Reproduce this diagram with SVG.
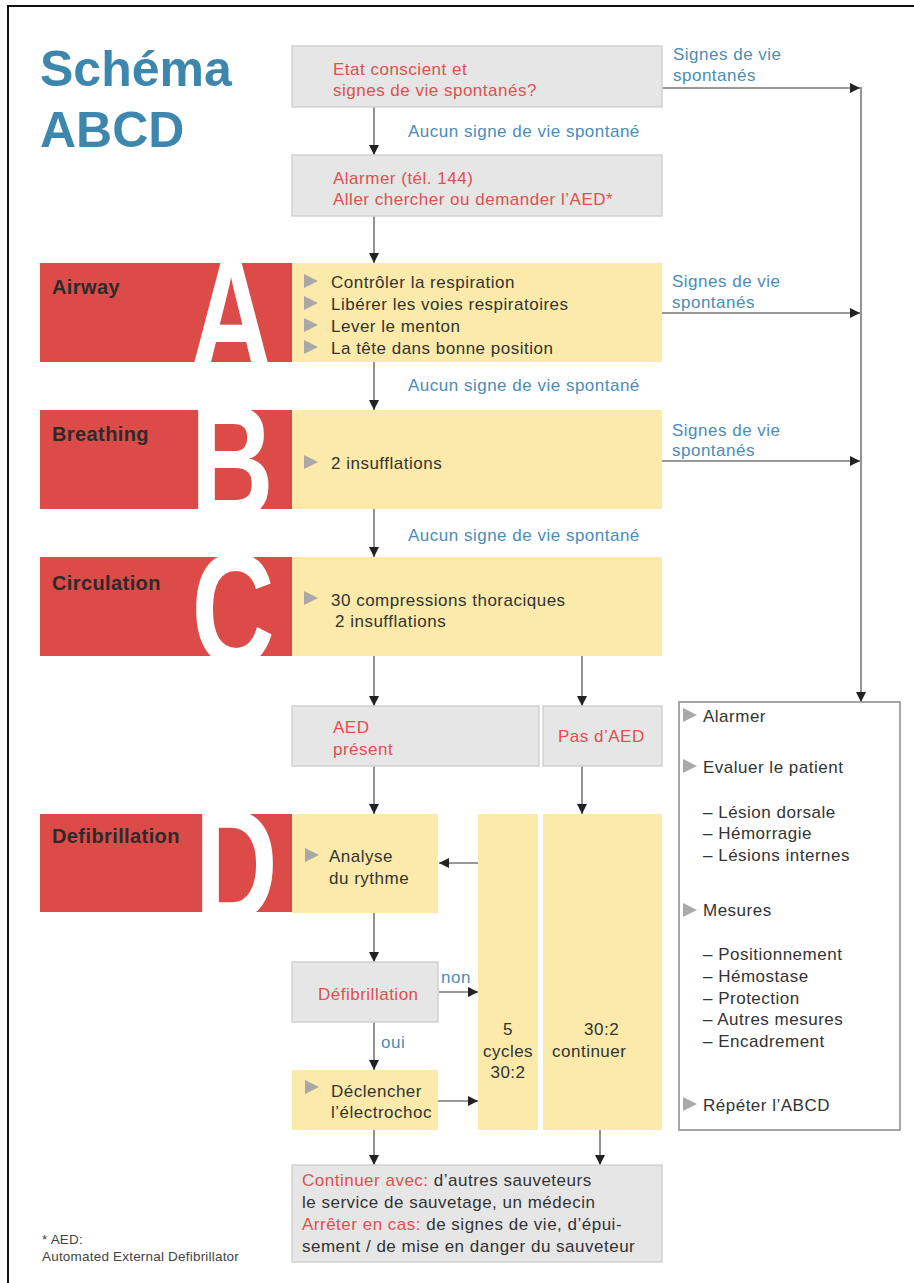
<svg xmlns="http://www.w3.org/2000/svg" width="914" height="1283" viewBox="0 0 914 1283">
<style>
.t{font-family:"Liberation Sans",Arial,sans-serif;font-size:17px;letter-spacing:0.5px}
.red{fill:#e0504e}
.blue{fill:#4a8db8}
.dark{fill:#333333}
.hd{font-family:"Liberation Sans",Arial,sans-serif;font-weight:bold;font-size:20px;letter-spacing:0.4px;fill:#2e2a2a}
.big{font-family:"Liberation Sans",Arial,sans-serif;font-weight:bold;font-size:160px;fill:#ffffff}
.gbox{fill:#e6e6e6;stroke:#d2d2d2;stroke-width:1.5}
.ybox{fill:#fbeaa9}
.rbox{fill:#dc4b47}
.conn line{stroke:#777777;stroke-width:1.6;fill:none}
.bul{fill:#a9a9a9}
</style>
<defs>
<marker id="ah" markerUnits="userSpaceOnUse" markerWidth="12" markerHeight="12" refX="10" refY="5" orient="auto">
<path d="M0,0 L10,5 L0,10 z" fill="#222222"/>
</marker>
<path id="tri" d="M0,0 L14,7 L0,14 z"/>
<clipPath id="cA"><rect x="40" y="263" width="252" height="99"/></clipPath>
<clipPath id="cB"><rect x="40" y="410" width="252" height="99"/></clipPath>
<clipPath id="cC"><rect x="40" y="557" width="252" height="99"/></clipPath>
<clipPath id="cD"><rect x="40" y="814" width="252" height="98"/></clipPath>
</defs>
<rect width="914" height="1283" fill="#ffffff"/>
<path d="M8,1283 L8,6 L914,6" fill="none" stroke="#111111" stroke-width="2"/>

<g id="title">
<text x="40" y="86" font-family="Liberation Sans,Arial,sans-serif" font-weight="bold" font-size="50" fill="#3d87ae">Schéma</text>
<text x="40" y="147" font-family="Liberation Sans,Arial,sans-serif" font-weight="bold" font-size="50" fill="#3d87ae">ABCD</text>
</g>

<g id="connectors" class="conn">
<line x1="374" y1="107" x2="374" y2="155" marker-end="url(#ah)"/>
<line x1="374" y1="216" x2="374" y2="263" marker-end="url(#ah)"/>
<line x1="374" y1="362" x2="374" y2="410" marker-end="url(#ah)"/>
<line x1="374" y1="509" x2="374" y2="557" marker-end="url(#ah)"/>
<line x1="374" y1="656" x2="374" y2="706" marker-end="url(#ah)"/>
<line x1="582" y1="656" x2="582" y2="706" marker-end="url(#ah)"/>
<line x1="374" y1="766" x2="374" y2="814" marker-end="url(#ah)"/>
<line x1="582" y1="766" x2="582" y2="814" marker-end="url(#ah)"/>
<line x1="478" y1="863" x2="439" y2="863" marker-end="url(#ah)"/>
<line x1="374" y1="913" x2="374" y2="962" marker-end="url(#ah)"/>
<line x1="439" y1="992" x2="478" y2="992" marker-end="url(#ah)"/>
<line x1="374" y1="1022" x2="374" y2="1070" marker-end="url(#ah)"/>
<line x1="438" y1="1101" x2="478" y2="1101" marker-end="url(#ah)"/>
<line x1="374" y1="1130" x2="374" y2="1165" marker-end="url(#ah)"/>
<line x1="600" y1="1130" x2="600" y2="1165" marker-end="url(#ah)"/>
<line x1="662" y1="88" x2="860" y2="88" marker-end="url(#ah)"/>
<line x1="662" y1="313" x2="860" y2="313" marker-end="url(#ah)"/>
<line x1="662" y1="461" x2="860" y2="461" marker-end="url(#ah)"/>
<line x1="861" y1="87" x2="861" y2="702" marker-end="url(#ah)"/>
</g>

<g id="edge-labels" class="t blue">
<text x="673" y="60">Signes de vie</text>
<text x="673" y="81">spontanés</text>
<text x="408" y="137">Aucun signe de vie spontané</text>
<text x="672" y="287">Signes de vie</text>
<text x="672" y="308">spontanés</text>
<text x="408" y="391">Aucun signe de vie spontané</text>
<text x="672" y="436">Signes de vie</text>
<text x="672" y="456">spontanés</text>
<text x="408" y="541">Aucun signe de vie spontané</text>
<text x="441" y="983">non</text>
<text x="381" y="1048">oui</text>
</g>

<g id="n-etat">
<rect class="gbox" x="292" y="46" width="370" height="61"/>
<text class="t red" x="333" y="75">Etat conscient et</text>
<text class="t red" x="333" y="96">signes de vie spontanés?</text>
</g>

<g id="n-alarmer">
<rect class="gbox" x="292" y="155" width="370" height="61"/>
<text class="t red" x="333" y="184">Alarmer (tél. 144)</text>
<text class="t red" x="333" y="205">Aller chercher ou demander l’AED*</text>
</g>

<g id="n-airway">
<rect class="rbox" x="40" y="263" width="252" height="99"/>
<g clip-path="url(#cA)"><text class="big" transform="translate(231,370) scale(0.72,1)" text-anchor="middle">A</text></g>
<text class="hd" x="52" y="294">Airway</text>
<rect class="ybox" x="292" y="263" width="370" height="99"/>
<use href="#tri" class="bul" x="304" y="274"/>
<use href="#tri" class="bul" x="304" y="296"/>
<use href="#tri" class="bul" x="304" y="318"/>
<use href="#tri" class="bul" x="304" y="340"/>
<text class="t dark" x="331" y="288">Contrôler la respiration</text>
<text class="t dark" x="331" y="310">Libérer les voies respiratoires</text>
<text class="t dark" x="331" y="332">Lever le menton</text>
<text class="t dark" x="331" y="354">La tête dans bonne position</text>
</g>

<g id="n-breathing">
<rect class="rbox" x="40" y="410" width="252" height="99"/>
<g clip-path="url(#cB)"><text class="big" transform="translate(232,517) scale(0.72,1)" text-anchor="middle">B</text></g>
<text class="hd" x="52" y="441">Breathing</text>
<rect class="ybox" x="292" y="410" width="370" height="99"/>
<use href="#tri" class="bul" x="304" y="455"/>
<text class="t dark" x="331" y="469">2 insufflations</text>
</g>

<g id="n-circulation">
<rect class="rbox" x="40" y="557" width="252" height="99"/>
<g clip-path="url(#cC)"><text class="big" transform="translate(233,664) scale(0.72,1)" text-anchor="middle">C</text></g>
<text class="hd" x="52" y="590">Circulation</text>
<rect class="ybox" x="292" y="557" width="370" height="99"/>
<use href="#tri" class="bul" x="304" y="591"/>
<text class="t dark" x="331" y="606">30 compressions thoraciques</text>
<text class="t dark" x="335" y="627">2 insufflations</text>
</g>

<g id="n-aed">
<rect class="gbox" x="292" y="706" width="247" height="60"/>
<text class="t red" x="333" y="733">AED</text>
<text class="t red" x="333" y="755">présent</text>
</g>

<g id="n-pasaed">
<rect class="gbox" x="543" y="706" width="119" height="60"/>
<text class="t red" x="558" y="742">Pas d’AED</text>
</g>

<g id="n-defib">
<rect class="rbox" x="40" y="814" width="252" height="98"/>
<g clip-path="url(#cD)"><text class="big" transform="translate(236,920) scale(0.72,1)" text-anchor="middle">D</text></g>
<text class="hd" x="52" y="843">Defibrillation</text>
<rect class="ybox" x="292" y="814" width="146" height="99"/>
<use href="#tri" class="bul" x="305" y="848"/>
<text class="t dark" x="329" y="862">Analyse</text>
<text class="t dark" x="329" y="884">du rythme</text>
</g>

<g id="n-cycles">
<rect class="ybox" x="478" y="814" width="60" height="316"/>
<text class="t dark" x="508" y="1035" text-anchor="middle">5</text>
<text class="t dark" x="508" y="1057" text-anchor="middle">cycles</text>
<text class="t dark" x="508" y="1078" text-anchor="middle">30:2</text>
</g>

<g id="n-continuer">
<rect class="ybox" x="543" y="814" width="119" height="316"/>
<text class="t dark" x="584" y="1035">30:2</text>
<text class="t dark" x="552" y="1057">continuer</text>
</g>

<g id="n-defibrillation">
<rect class="gbox" x="292" y="962" width="146" height="60"/>
<text class="t red" x="318" y="1000">Défibrillation</text>
</g>

<g id="n-electrochoc">
<rect class="ybox" x="292" y="1070" width="146" height="60"/>
<use href="#tri" class="bul" x="305" y="1080"/>
<text class="t dark" x="331" y="1097">Déclencher</text>
<text class="t dark" x="331" y="1118">l’électrochoc</text>
</g>

<g id="n-final">
<rect class="gbox" x="292" y="1165" width="370" height="97"/>
<text class="t dark" x="302" y="1186"><tspan class="red">Continuer avec:</tspan> d’autres sauveteurs</text>
<text class="t dark" x="302" y="1208">le service de sauvetage, un médecin</text>
<text class="t dark" x="302" y="1230"><tspan class="red">Arrêter en cas:</tspan> de signes de vie, d’épui-</text>
<text class="t dark" x="302" y="1252">sement / de mise en danger du sauveteur</text>
</g>

<g id="n-mesures">
<rect x="679" y="702" width="221" height="428" fill="#ffffff" stroke="#8a8a8a" stroke-width="1.5"/>
<use href="#tri" class="bul" x="683" y="708"/>
<use href="#tri" class="bul" x="683" y="759"/>
<use href="#tri" class="bul" x="683" y="903"/>
<use href="#tri" class="bul" x="683" y="1097"/>
<text class="t dark" x="703" y="722">Alarmer</text>
<text class="t dark" x="703" y="773">Evaluer le patient</text>
<text class="t dark" x="703" y="818">– Lésion dorsale</text>
<text class="t dark" x="703" y="839">– Hémorragie</text>
<text class="t dark" x="703" y="861">– Lésions internes</text>
<text class="t dark" x="703" y="916">Mesures</text>
<text class="t dark" x="703" y="960">– Positionnement</text>
<text class="t dark" x="703" y="982">– Hémostase</text>
<text class="t dark" x="703" y="1004">– Protection</text>
<text class="t dark" x="703" y="1025">– Autres mesures</text>
<text class="t dark" x="703" y="1047">– Encadrement</text>
<text class="t dark" x="703" y="1111">Répéter l’ABCD</text>
</g>

<g id="footnote">
<text x="42" y="1244" font-family="Liberation Sans,Arial,sans-serif" font-size="13.5" letter-spacing="0.2" fill="#444444">* AED:</text>
<text x="42" y="1261" font-family="Liberation Sans,Arial,sans-serif" font-size="13.5" letter-spacing="0.2" fill="#444444">Automated External Defibrillator</text>
</g>
</svg>
